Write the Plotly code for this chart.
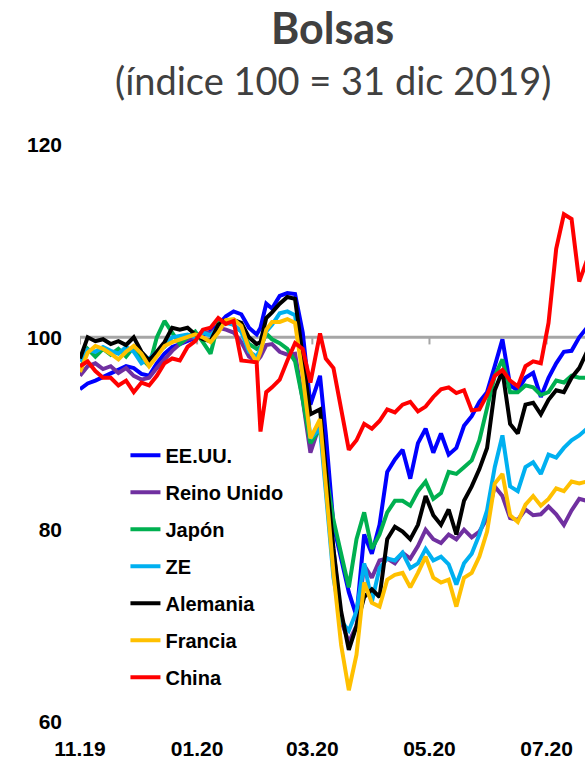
import plotly.graph_objects as go

# Observation dates (roughly every 4 days, with extra points around sharp moves)
dates = [
    "2019-11-01", "2019-11-05", "2019-11-09", "2019-11-13", "2019-11-17", "2019-11-21",
    "2019-11-25", "2019-11-29", "2019-12-03", "2019-12-07", "2019-12-11", "2019-12-15",
    "2019-12-19", "2019-12-23", "2019-12-27", "2019-12-31", "2020-01-04", "2020-01-08",
    "2020-01-12", "2020-01-16", "2020-01-20", "2020-01-24", "2020-01-28", "2020-02-01",
    "2020-02-03", "2020-02-06", "2020-02-09", "2020-02-13", "2020-02-17", "2020-02-21",
    "2020-02-25", "2020-02-29", "2020-03-05", "2020-03-08", "2020-03-12", "2020-03-16",
    "2020-03-20", "2020-03-24", "2020-03-28", "2020-04-01", "2020-04-05", "2020-04-09",
    "2020-04-13", "2020-04-17", "2020-04-21", "2020-04-25", "2020-04-29", "2020-05-03",
    "2020-05-07", "2020-05-11", "2020-05-15", "2020-05-19", "2020-05-23", "2020-05-27",
    "2020-05-31", "2020-06-04", "2020-06-08", "2020-06-12", "2020-06-16", "2020-06-20",
    "2020-06-24", "2020-06-28", "2020-07-02", "2020-07-06", "2020-07-10", "2020-07-14",
    "2020-07-18", "2020-07-22",
]

eeuu = [
    94.6, 95.2, 95.5, 95.9, 96.3, 96.6, 97.0, 96.8, 96.2, 96.0, 97.3, 98.3,
    99.0, 99.3, 99.6, 100.0, 100.2, 100.6, 101.3, 102.2, 102.7, 102.4, 101.0, 100.3,
    101.0, 103.5, 103.0, 104.3, 104.6, 104.5, 100.5, 93.0, 96.0, 90.0, 80.5, 77.0,
    73.5, 71.0, 79.5, 77.5, 80.5, 86.0, 87.3, 88.3, 85.3, 89.0, 90.5, 88.0,
    90.0, 87.8, 88.5, 90.8, 91.8, 93.3, 94.3, 97.0, 99.8, 95.0, 94.5, 95.8,
    96.3, 93.8, 95.8, 97.3, 98.5, 98.6, 100.0, 101.0,
]

reino_unido = [
    96.0, 97.0, 97.3, 96.7, 97.0, 96.3, 96.8, 96.0, 95.6, 95.8, 96.8, 97.7,
    98.6, 99.3, 99.8, 100.0, 100.6, 100.4, 101.0, 100.8, 100.5, 99.5, 98.0, 97.5,
    98.0, 99.2, 99.3, 98.5, 98.2, 98.3, 93.5, 88.0, 91.0, 85.5, 78.0, 70.5,
    68.3, 70.0, 76.3, 75.0, 76.8, 77.0, 76.5, 77.6, 77.0, 78.3, 80.0, 79.0,
    78.6, 79.5, 79.0, 80.0, 79.2, 79.8, 81.2, 84.5, 83.5, 81.2, 81.0, 82.1,
    81.5, 81.6, 82.4, 81.6, 80.5, 82.0, 83.2, 83.0,
]

japon = [
    96.5, 98.8, 98.0, 98.8, 98.2, 98.8, 98.0, 99.0, 97.8, 97.0, 100.0, 101.7,
    100.5, 99.3, 100.0, 100.6, 99.5, 98.3, 101.5, 101.7, 101.3, 100.6, 99.3, 98.8,
    99.0, 100.4, 99.8, 99.4, 98.8, 97.5, 93.5, 89.0, 90.5, 86.0, 81.0, 77.5,
    74.0, 79.0, 81.8, 78.0, 79.5, 81.8, 83.0, 83.0, 82.5, 84.0, 85.0, 83.2,
    83.8, 86.0, 85.8, 86.5, 87.2, 89.3, 92.7, 96.0, 97.7, 94.3, 94.3, 95.0,
    94.8, 94.0, 94.3, 95.5, 95.3, 96.0, 95.8, 95.8,
]

ze = [
    97.5, 98.7, 98.5, 99.0, 98.6, 98.3, 99.0, 98.5, 97.3, 97.8, 98.5, 99.0,
    100.0, 100.2, 100.3, 100.0, 100.5, 100.2, 101.0, 101.5, 101.3, 100.6, 98.5, 98.0,
    98.8, 100.6, 101.3, 102.5, 102.7, 102.3, 96.5, 89.5, 90.5, 84.0, 75.0, 70.5,
    69.5, 71.5, 76.5, 72.5, 76.0, 77.0, 76.8, 77.6, 76.0, 76.5, 78.0, 76.8,
    77.2, 76.4, 74.3, 76.5, 77.5, 79.5, 82.0, 86.5, 89.8, 84.5, 84.0, 86.5,
    87.0, 85.8, 87.8, 87.5, 88.5, 89.3, 89.8, 90.5,
]

alemania = [
    97.8, 100.0, 99.6, 99.8, 99.3, 99.6, 99.2, 100.0, 98.5, 97.6, 98.5, 99.5,
    101.0, 100.8, 101.0, 100.3, 99.8, 99.6, 101.3, 101.8, 101.8, 101.5, 100.0, 99.3,
    99.5, 102.0, 102.6, 103.5, 104.2, 104.0, 98.0, 92.0, 92.5, 86.0, 78.0, 71.5,
    67.5, 70.0, 73.0, 73.8, 73.0, 79.0, 80.3, 79.8, 79.0, 80.5, 83.5, 81.5,
    80.5, 82.1, 79.5, 83.0, 84.5, 86.3, 88.5, 94.5, 96.5, 91.0, 90.0, 93.0,
    93.2, 92.0, 93.5, 94.5, 94.3, 95.8, 96.8, 98.5,
]

francia = [
    96.4, 98.4, 99.1, 98.8, 98.3, 97.7, 98.5, 99.1, 98.3, 97.0, 98.0, 99.1,
    99.5, 99.8, 100.1, 100.3, 100.0, 99.5, 100.5, 101.8, 101.9, 101.2, 98.8, 97.4,
    98.5, 100.8, 101.6, 101.6, 101.9, 101.5, 96.0, 89.5, 91.5, 84.5, 75.5, 68.0,
    63.3, 67.0, 74.5, 72.4, 72.0, 74.8, 75.3, 75.5, 74.0, 75.5, 77.2, 75.0,
    74.5, 74.8, 72.0, 75.0, 75.5, 77.2, 79.8, 84.8, 85.8, 81.5, 80.8, 82.6,
    83.5, 82.5, 83.2, 84.3, 84.0, 85.0, 84.8, 85.0,
]

china = [
    97.0, 97.5, 96.5, 95.8, 95.8, 95.0, 95.5, 94.3, 95.3, 95.0, 96.0, 97.3,
    97.8, 97.6, 99.0, 99.6, 100.8, 101.0, 102.0, 101.4, 101.7, 97.6, 97.5, 97.4,
    90.2, 94.3, 94.8, 95.6, 97.6, 99.4, 98.8, 95.3, 100.4, 97.8, 96.8, 92.8,
    88.3, 89.3, 91.0, 90.5, 91.3, 92.5, 92.2, 93.0, 93.3, 92.3, 92.8, 93.8,
    94.6, 94.8, 94.2, 94.5, 92.4, 92.5, 94.0, 96.0, 96.6, 95.5, 94.9, 97.0,
    97.5, 97.3, 101.5, 109.2, 112.8, 112.3, 105.8, 108.0,
]

series_names = ["EE.UU.", "Reino Unido", "Japón", "ZE", "Alemania", "Francia", "China"]
series_values = [eeuu, reino_unido, japon, ze, alemania, francia, china]
series_colors = ["#0000FF", "#7030A0", "#00B050", "#00B0F0", "#000000", "#FFC000", "#FF0000"]

tick_dates = ["2019-11-01", "2020-01-01", "2020-03-01", "2020-05-01", "2020-07-01"]
tick_labels = ["11.19", "01.20", "03.20", "05.20", "07.20"]
y_ticks = [60, 80, 100, 120]

AXIS_GRAY = "#A6A6A6"
ARIAL = "Liberation Sans, Arial, sans-serif"
LABEL_FONT = dict(family=ARIAL, size=21, color="#000000", weight="bold")

fig = go.Figure()

# small tick marks hanging under the 100 reference line
fig.add_trace(go.Scatter(
    x=tick_dates, y=[99.7] * len(tick_dates), mode="markers",
    marker=dict(symbol="line-ns", size=6, line=dict(color=AXIS_GRAY, width=2)),
    showlegend=False, hoverinfo="skip", legendgroup="ticks",
))

for name, vals, color in zip(series_names, series_values, series_colors):
    fig.add_trace(go.Scatter(
        x=dates, y=vals, mode="lines", name=name, legendgroup=name,
        line=dict(color=color, width=4),
    ))

fig.add_shape(
    type="line", xref="paper", x0=0, x1=1, yref="y", y0=100, y1=100,
    line=dict(color=AXIS_GRAY, width=3), layer="below",
)

fig.add_annotation(
    text="Bolsas", xref="paper", yref="paper", x=0.5, y=1.2045,
    xanchor="center", yanchor="middle", showarrow=False,
    font=dict(family="Lato, sans-serif", size=43, color="#404040", weight="bold"),
)
fig.add_annotation(
    text="(índice 100 = 31 dic 2019)", xref="paper", yref="paper", x=0.5, y=1.1127,
    xanchor="center", yanchor="middle", showarrow=False,
    font=dict(family="Lato, sans-serif", size=38, color="#404040"),
)

fig.update_layout(
    width=585, height=762,
    margin=dict(l=80, r=0, t=145, b=40),
    paper_bgcolor="white", plot_bgcolor="white",
    showlegend=True,
    legend=dict(
        x=0.09, y=0.496, xanchor="left", yanchor="top",
        bgcolor="rgba(0,0,0,0)", borderwidth=0,
        font=dict(family=ARIAL, size=20, color="#000000", weight="bold"),
        tracegroupgap=8, traceorder="grouped",
    ),
    xaxis=dict(
        type="date", range=["2019-11-01", "2020-07-21"],
        tickvals=tick_dates, ticktext=tick_labels,
        showgrid=False, zeroline=False, showline=False, ticks="",
        tickfont=LABEL_FONT, ticklabelstandoff=12,
    ),
    yaxis=dict(
        range=[60, 120], tickvals=y_ticks,
        showgrid=False, zeroline=False, showline=False, ticks="",
        tickfont=LABEL_FONT, ticklabelstandoff=17,
    ),
)

fig.write_html("out.html")
